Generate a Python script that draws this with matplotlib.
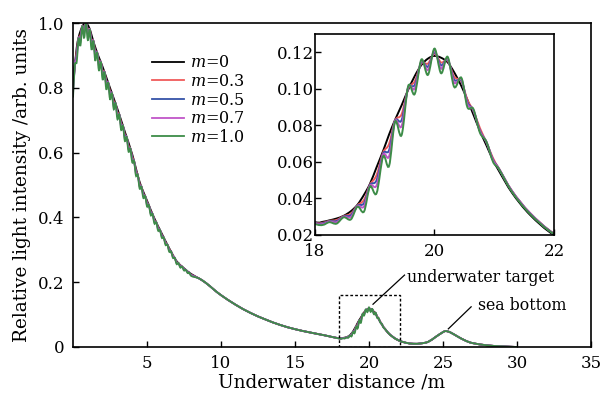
import numpy as np
import matplotlib.pyplot as plt
from matplotlib.patches import Rectangle, PathPatch
from matplotlib.path import Path
from matplotlib.lines import Line2D

plt.rcParams['font.family'] = 'DejaVu Serif'
plt.rcParams['mathtext.fontset'] = 'dejavuserif'

# m = 0 curve (smooth), 0 .. 17.5 m
x_head = [0, 0.25, 0.5, 0.81, 1.1, 1.4, 1.7, 2.0, 2.5, 3.0, 3.5, 4.0, 4.5, 5.0, 5.5,
          6.0, 6.5, 7.0, 7.5, 8.0, 8.5, 9.0, 9.5, 10, 11, 12, 13, 14, 15, 16, 17, 17.5]
y_head = [0.81, 0.925, 0.975, 1.0, 0.985, 0.94, 0.9, 0.865, 0.80, 0.735, 0.665, 0.595, 0.51,
          0.452, 0.397, 0.35, 0.305, 0.265, 0.243, 0.225, 0.212, 0.197, 0.178, 0.16, 0.13,
          0.105, 0.085, 0.068, 0.055, 0.045, 0.036, 0.031]

# ripple zone near the source: crests (same for every m) and troughs per m
x_trough = np.arange(0, 8.01, 0.25)
x_crest = x_trough[:-1] + 0.125
y_crest = [0.87, 0.953, 0.99, 1.0, 0.98, 0.945, 0.91, 0.88, 0.849, 0.816, 0.784, 0.752,
           0.718, 0.683, 0.648, 0.612, 0.574, 0.531, 0.495, 0.466, 0.438, 0.41, 0.385, 0.361,
           0.338, 0.316, 0.295, 0.275, 0.259, 0.248, 0.238, 0.229]
trough_03 = [0.798, 0.912, 0.962, 0.985, 0.979, 0.949, 0.914, 0.882, 0.853, 0.822, 0.789,
             0.758, 0.725, 0.691, 0.656, 0.622, 0.588, 0.545, 0.504, 0.474, 0.447, 0.419,
             0.392, 0.369, 0.346, 0.323, 0.302, 0.282, 0.262, 0.251, 0.241, 0.232, 0.223]
trough_05 = [0.79, 0.903, 0.953, 0.976, 0.970, 0.940, 0.906, 0.874, 0.845, 0.814, 0.782,
             0.751, 0.719, 0.685, 0.651, 0.617, 0.583, 0.541, 0.500, 0.470, 0.443, 0.416,
             0.389, 0.366, 0.344, 0.321, 0.300, 0.280, 0.261, 0.249, 0.240, 0.231, 0.222]
trough_07 = [0.782, 0.894, 0.944, 0.967, 0.961, 0.931, 0.897, 0.866, 0.837, 0.806, 0.775,
             0.744, 0.713, 0.679, 0.645, 0.611, 0.578, 0.536, 0.495, 0.466, 0.439, 0.412,
             0.386, 0.363, 0.341, 0.319, 0.297, 0.278, 0.259, 0.247, 0.238, 0.229, 0.221]
trough_10 = [0.77, 0.88, 0.93, 0.953, 0.947, 0.918, 0.884, 0.853, 0.825, 0.795, 0.764,
             0.734, 0.703, 0.67, 0.636, 0.603, 0.57, 0.529, 0.489, 0.46, 0.434, 0.407,
             0.381, 0.359, 0.337, 0.315, 0.294, 0.275, 0.256, 0.245, 0.236, 0.228, 0.219]

# smooth stretch 8.5 .. 17.5 m (all m)
x_mid = [8.5, 9.0, 9.5, 10, 11, 12, 13, 14, 15, 16, 17, 17.5]
y_mid = [0.212, 0.197, 0.178, 0.16, 0.13, 0.105, 0.085, 0.068, 0.055, 0.045, 0.036, 0.031]

# underwater target, 18 .. 22 m
x_tgt = [18.0, 18.13, 18.24, 18.36, 18.48, 18.6, 18.71, 18.82, 18.92, 19.03, 19.14, 19.24,
         19.34, 19.45, 19.56, 19.67, 19.78, 19.89, 20.0, 20.11, 20.22, 20.33, 20.45, 20.55,
         20.65, 20.76, 20.87, 20.98, 21.08, 21.3, 21.6, 22.0]
tgt_00 = [0.027, 0.0272, 0.028, 0.029, 0.0305, 0.033, 0.0365, 0.042, 0.048, 0.057, 0.066,
          0.075, 0.083, 0.091, 0.0995, 0.107, 0.113, 0.1165, 0.118, 0.117, 0.1145, 0.109,
          0.1015, 0.094, 0.086, 0.077, 0.069, 0.061, 0.055, 0.043, 0.031, 0.020]
tgt_03 = [0.0267, 0.0267, 0.0277, 0.0282, 0.0303, 0.0316, 0.0362, 0.0392, 0.0475, 0.0527,
          0.0651, 0.0698, 0.0827, 0.0861, 0.1001, 0.1041, 0.1139, 0.1138, 0.1192, 0.1144,
          0.1154, 0.1066, 0.104, 0.094, 0.088, 0.0785, 0.0706, 0.062, 0.0563, 0.044, 0.032,
          0.0208]
tgt_05 = [0.0265, 0.0264, 0.0275, 0.0276, 0.0301, 0.0308, 0.036, 0.0374, 0.0473, 0.0499,
          0.0645, 0.0664, 0.0825, 0.0829, 0.1005, 0.1021, 0.1145, 0.1121, 0.120, 0.1128,
          0.116, 0.105, 0.1045, 0.0927, 0.0882, 0.0772, 0.0707, 0.0612, 0.0562, 0.0439,
          0.0319, 0.0207]
tgt_07 = [0.0263, 0.026, 0.0273, 0.027, 0.0299, 0.0298, 0.0358, 0.0356, 0.047, 0.0471,
          0.0639, 0.063, 0.0823, 0.0796, 0.1009, 0.1001, 0.1151, 0.1103, 0.1208, 0.111,
          0.1166, 0.1034, 0.1052, 0.0917, 0.0886, 0.0768, 0.0709, 0.0608, 0.0562, 0.0439,
          0.0319, 0.0206]
tgt_10 = [0.026, 0.0255, 0.027, 0.0262, 0.0297, 0.0285, 0.0355, 0.0328, 0.0465, 0.0428,
          0.063, 0.0578, 0.082, 0.0747, 0.1015, 0.0972, 0.116, 0.1076, 0.122, 0.1085, 0.1175,
          0.101, 0.106, 0.090, 0.089, 0.076, 0.071, 0.060, 0.056, 0.0435, 0.0315, 0.0205]

# sea bottom, 22.5 .. 30 m
x_tail = [22.5, 23, 23.5, 24, 24.5, 25, 25.2, 25.5, 26, 26.5, 27, 28, 29, 30]
y_tail = [0.013, 0.010, 0.011, 0.016, 0.031, 0.046, 0.049, 0.045, 0.032, 0.020, 0.012,
          0.005, 0.002, 0.0]

m_labels = ['$m$=0', '$m$=0.3', '$m$=0.5', '$m$=0.7', '$m$=1.0']
colors = ['black', '#f05a5a', '#3553a8', '#c055c8', '#3d8c48']


def ripple_series(troughs, tgt):
	xs = np.empty(len(x_trough) + len(x_crest))
	ys = np.empty_like(xs)
	xs[0::2] = x_trough
	xs[1::2] = x_crest
	ys[0::2] = troughs
	ys[1::2] = y_crest
	x = np.concatenate([xs, x_mid, x_tgt, x_tail])
	y = np.concatenate([ys, y_mid, tgt, y_tail])
	return x, y


def smooth_path(x, y):
	# bezier path through the listed points (Catmull-Rom tangents), drawn by matplotlib
	p = np.column_stack([x, y])
	q = np.vstack([p[0], p, p[-1]])
	verts = [p[0]]
	codes = [Path.MOVETO]
	for i in range(len(p) - 1):
		c1 = q[i + 1] + (q[i + 2] - q[i]) / 6
		c2 = q[i + 2] - (q[i + 3] - q[i + 1]) / 6
		verts += [c1, c2, p[i + 1]]
		codes += [Path.CURVE4] * 3
	return Path(verts, codes)


series = [(np.concatenate([x_head, x_tgt, x_tail]), np.concatenate([y_head, tgt_00, y_tail]))]
for tr, tg in [(trough_03, tgt_03), (trough_05, tgt_05), (trough_07, tgt_07), (trough_10, tgt_10)]:
	series.append(ripple_series(tr, tg))

fig = plt.figure(figsize=(6, 3.94), dpi=100)
ax = fig.add_axes([0.1217, 0.1193, 0.8633, 0.8223])

handles = []
for (x, y), c, lab in zip(series, colors, m_labels):
	ax.add_patch(PathPatch(smooth_path(x, y), fill=False, edgecolor=c, lw=1.3))
	handles.append(Line2D([], [], color=c, lw=1.3, label=lab))

ax.set_xlim(0, 35)
ax.set_ylim(0, 1.0)
ax.set_xticks([5, 10, 15, 20, 25, 30, 35])
ax.set_yticks([0, 0.2, 0.4, 0.6, 0.8, 1.0])
ax.set_yticklabels(['0', '0.2', '0.4', '0.6', '0.8', '1.0'])
ax.tick_params(direction='in', length=4, width=1, labelsize=12, pad=6)
for s in ax.spines.values():
	s.set_linewidth(1.2)
ax.set_xlabel('Underwater distance /m', fontsize=13.3, labelpad=1)
ax.set_ylabel('Relative light intensity /arb. units', fontsize=13.3, labelpad=5)

ax.add_patch(Rectangle((18, 0), 4.1, 0.162, fill=False, lw=1, ls=(0, (2, 1.5)), color='black'))
ax.plot([20.27, 22.4], [0.132, 0.222], color='black', lw=0.9)
ax.text(22.6, 0.213, 'underwater target', fontsize=11.3, va='center')
ax.plot([25.36, 26.9], [0.056, 0.124], color='black', lw=0.9)
ax.text(27.35, 0.127, 'sea bottom', fontsize=11.3, va='center')

ax.legend(handles=handles, loc='upper left', bbox_to_anchor=(0.152, 0.903), frameon=False,
	fontsize=11.5, handlelength=2.0, handletextpad=0.4, labelspacing=0.1, borderpad=0,
	borderaxespad=0)

# inset zoom on the target
axi = fig.add_axes([0.525, 0.4036, 0.3983, 0.5102])
for (x, y), c in zip(series, colors):
	axi.add_patch(PathPatch(smooth_path(x, y), fill=False, edgecolor=c, lw=1.4))
axi.set_xlim(18, 22)
axi.set_ylim(0.02, 0.13)
axi.set_xticks([18, 20, 22])
axi.set_yticks([0.02, 0.04, 0.06, 0.08, 0.10, 0.12])
axi.set_yticklabels(['0.02', '0.04', '0.06', '0.08', '0.10', '0.12'])
axi.tick_params(direction='in', length=4, width=1, labelsize=12)
axi.tick_params(axis='y', pad=1)
axi.tick_params(axis='x', pad=6)
for s in axi.spines.values():
	s.set_linewidth(1.2)

fig.savefig('out.png', dpi=100)
